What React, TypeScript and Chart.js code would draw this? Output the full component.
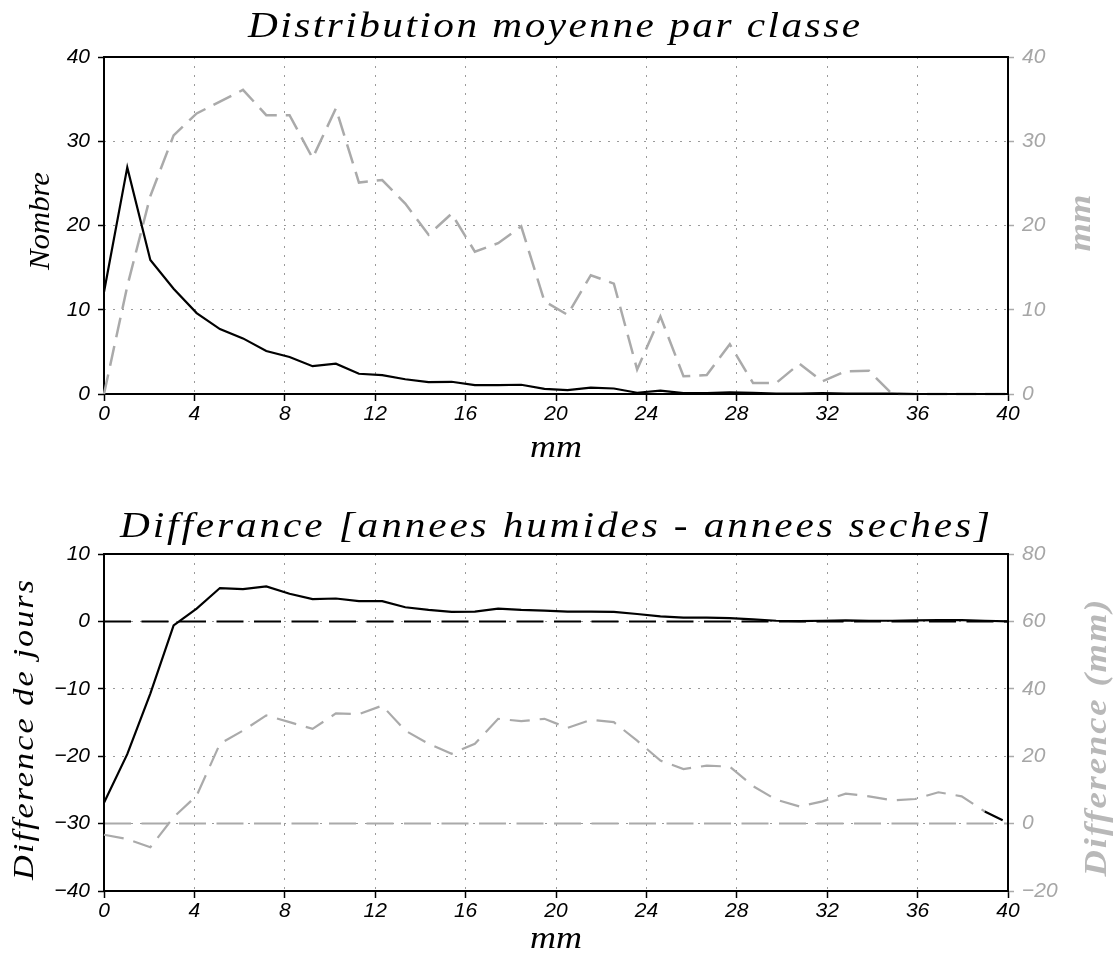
import React, { useEffect, useRef } from "react";
import { Chart, registerables } from "chart.js";

Chart.register(...registerables);

// ---- data ----
const MM_CLASSES = [
  0, 1.03, 2.05, 3.08, 4.1, 5.13, 6.15, 7.18, 8.21, 9.23, 10.26, 11.28, 12.31, 13.33,
  14.36, 15.38, 16.41, 17.44, 18.46, 19.49, 20.51, 21.54, 22.56, 23.59, 24.62, 25.64,
  26.67, 27.69, 28.72, 29.74, 30.77, 31.79, 32.82, 33.85, 34.87, 35.9, 36.92, 37.95,
  38.97, 40,
];
const X_TICKS = [0, 4, 8, 12, 16, 20, 24, 28, 32, 36, 40];

const TOP_TITLE = "Distribution moyenne par classe";
const TOP_X_TITLE = "mm";
const TOP_LEFT_TITLE = "Nombre";
const TOP_RIGHT_TITLE = "mm";
const TOP_COUNT = [
  12.1, 26.9, 15.9, 12.5, 9.6, 7.7, 6.6, 5.1, 4.4, 3.3, 3.6, 2.4, 2.25, 1.75, 1.4, 1.45,
  1.05, 1.05, 1.1, 0.6, 0.45, 0.75, 0.65, 0.15, 0.4, 0.1, 0.1, 0.2, 0.15, 0.05, 0.05, 0.1,
  0.05, 0.05, 0.05, 0, 0, 0, 0, 0,
];
const TOP_MM = [
  0, 12.8, 23.5, 30.7, 33.3, 34.7, 36.1, 33.1, 33.1, 28.0, 33.9, 25.1, 25.4, 22.6, 18.9,
  21.4, 16.9, 17.9, 19.9, 11.0, 9.4, 14.1, 13.1, 2.9, 9.2, 2.1, 2.25, 5.9, 1.3, 1.3, 3.6,
  1.5, 2.7, 2.75, 0, 0, 0, 0, 0, 0,
];
const TOP_LEFT_TICKS = [0, 10, 20, 30, 40];
const TOP_RIGHT_TICKS = [0, 10, 20, 30, 40];

const BOTTOM_TITLE = "Differance [annees humides - annees seches]";
const BOTTOM_X_TITLE = "mm";
const BOTTOM_LEFT_TITLE = "Difference de jours";
const BOTTOM_RIGHT_TITLE = "Difference (mm)";
const BOTTOM_DAYS = [
  -26.9, -19.7, -10.7, -0.6, 1.9, 4.95, 4.8, 5.2, 4.1, 3.3, 3.4, 3.0, 3.0, 2.1, 1.7, 1.4,
  1.45, 1.9, 1.7, 1.6, 1.45, 1.45, 1.4, 1.1, 0.75, 0.55, 0.55, 0.5, 0.3, 0.1, 0.05, 0.1,
  0.15, 0.1, 0.1, 0.15, 0.2, 0.2, 0.1, 0,
];
const BOTTOM_MM = [
  -3.3, -4.6, -7, 1.9, 8.3, 23.7, 27.6, 32.1, 30.1, 28.1, 32.7, 32.5, 35, 27.6, 23.7,
  20.7, 23.7, 31.1, 30.4, 31.1, 28.4, 30.8, 30.1, 24.6, 18.7, 16.2, 17.2, 16.9, 11.1, 7.1,
  5.1, 6.6, 8.9, 8.1, 6.9, 7.3, 9.3, 8.1, 3.6, 0.2,
];
const BOTTOM_LEFT_TICKS = [-40, -30, -20, -10, 0, 10];
const BOTTOM_RIGHT_TICKS = [-20, 0, 20, 40, 60, 80];
const BOTTOM_LEFT_REF = 0;
const BOTTOM_RIGHT_REF = 0;

// ---- style ----
const GREY = "#aaaaaa";
const GREY_TXT = "#a6a6a6";
const GREY_TITLE = "#b8b8b8";
const GRID = "#9a9a9a";
const W = 1113;
const TOP_H = 470;
const BOT_H = 488;
const SERIF = "'Liberation Serif'";

type TextSpec = {
  text: string;
  x: number;
  y: number;
  w: number;
  font: string;
  color: string;
  rot?: number;
};

// draws text centred at (x, y), widened (a little stretch, then letter spacing) to span w pixels
function drawFitted(ctx: CanvasRenderingContext2D, t: TextSpec) {
  ctx.save();
  ctx.font = t.font;
  ctx.fillStyle = t.color;
  ctx.textAlign = "left";
  ctx.textBaseline = "alphabetic";
  const c: any = ctx;
  const hasSpacing = "letterSpacing" in c;
  if (hasSpacing) c.letterSpacing = "0px";
  const m = ctx.measureText(t.text).width || 1;
  ctx.translate(t.x, t.y);
  if (t.rot) ctx.rotate(t.rot);
  const n = t.text.length;
  if (hasSpacing && n > 1) {
    const sx = Math.min(1.18, t.w / m);
    ctx.scale(sx, 1);
    const sp = (t.w / sx - m) / (n - 1);
    c.letterSpacing = Math.max(0, sp) + "px";
    ctx.fillText(t.text, -t.w / (2 * sx), 0);
  } else {
    ctx.scale(t.w / m, 1);
    ctx.fillText(t.text, -m / 2, 0);
  }
  ctx.restore();
}

const fmt = (v: number) => (v < 0 ? "\u2212" + Math.abs(v) : String(v));
const tickFont = { family: "'Liberation Sans'", size: 21, style: "italic" as const };

function scales(leftTicks: number[], rightTicks: number[], xHeight: number) {
  return {
    x: {
      type: "linear",
      min: 0,
      max: 40,
      afterBuildTicks: (s: any) => {
        s.ticks = X_TICKS.map((v) => ({ value: v }));
      },
      afterFit: (s: any) => {
        s.height = xHeight;
      },
      grid: {
        color: GRID,
        lineWidth: 1,
        tickColor: "#000",
        tickLength: 7,
        tickWidth: 1.5,
        tickBorderDash: [],
      },
      border: { display: false, dash: [2, 7] },
      ticks: { color: "#000", font: tickFont, padding: 1, maxRotation: 0, callback: (v: any) => fmt(v) },
    },
    y: {
      type: "linear",
      position: "left",
      min: leftTicks[0],
      max: leftTicks[leftTicks.length - 1],
      afterBuildTicks: (s: any) => {
        s.ticks = leftTicks.map((v) => ({ value: v }));
      },
      afterFit: (s: any) => {
        s.width = 104;
      },
      grid: {
        color: GRID,
        lineWidth: 1,
        tickColor: "#000",
        tickLength: 6,
        tickWidth: 1.5,
        tickBorderDash: [],
      },
      border: { display: false, dash: [2, 7] },
      ticks: { color: "#000", font: tickFont, padding: 8, callback: (v: any) => fmt(v) },
    },
    y1: {
      type: "linear",
      position: "right",
      min: rightTicks[0],
      max: rightTicks[rightTicks.length - 1],
      afterBuildTicks: (s: any) => {
        s.ticks = rightTicks.map((v) => ({ value: v }));
      },
      afterFit: (s: any) => {
        s.width = W - 1008;
      },
      grid: {
        drawOnChartArea: false,
        color: GREY,
        tickColor: GREY,
        tickLength: 6,
        tickWidth: 1.5,
        tickBorderDash: [],
      },
      border: { display: false },
      ticks: { color: GREY_TXT, font: tickFont, padding: 8, callback: (v: any) => fmt(v) },
    },
  };
}

function framePlugin(refLines: { axis: string; value: number; color: string }[]) {
  return {
    id: "frame",
    beforeDatasetsDraw(chart: any) {
      const { ctx, chartArea: a } = chart;
      ctx.save();
      refLines.forEach((r) => {
        const y = chart.scales[r.axis].getPixelForValue(r.value);
        ctx.strokeStyle = r.color;
        ctx.lineWidth = 2;
        ctx.setLineDash([27, 10.5]);
        ctx.beginPath();
        ctx.moveTo(a.left, y);
        ctx.lineTo(a.right, y);
        ctx.stroke();
      });
      ctx.setLineDash([]);
      ctx.strokeStyle = "#000";
      ctx.lineWidth = 2;
      ctx.strokeRect(a.left, a.top, a.right - a.left, a.bottom - a.top);
      ctx.restore();
    },
  };
}

function textPlugin(texts: TextSpec[]) {
  return {
    id: "texts",
    afterDraw(chart: any) {
      texts.forEach((t) => drawFitted(chart.ctx, t));
    },
  };
}

const pts = (vals: number[]) => MM_CLASSES.map((x, i) => ({ x, y: vals[i] }));

function topConfig(): any {
  return {
    type: "line",
    data: {
      datasets: [
        {
          data: pts(TOP_COUNT),
          yAxisID: "y",
          borderColor: "#000",
          borderWidth: 2.2,
          pointRadius: 0,
          tension: 0,
          clip: false,
        },
        {
          data: pts(TOP_MM),
          yAxisID: "y1",
          borderColor: GREY,
          borderWidth: 2.5,
          borderDash: [20, 9],
          pointRadius: 0,
          tension: 0,
          clip: false,
        },
      ],
    },
    options: {
      responsive: false,
      animation: false,
      events: [],
      layout: { padding: { top: 57, left: 0, right: 0, bottom: 0 } },
      plugins: { legend: { display: false }, tooltip: { enabled: false }, title: { display: false } },
      scales: scales(TOP_LEFT_TICKS, TOP_RIGHT_TICKS, TOP_H - 394),
    },
    plugins: [
      framePlugin([]),
      textPlugin([
        { text: TOP_TITLE, x: 554, y: 37, w: 612, font: `italic 35px ${SERIF}`, color: "#000" },
        { text: TOP_X_TITLE, x: 556, y: 457, w: 52, font: `italic 31px ${SERIF}`, color: "#000" },
        { text: TOP_LEFT_TITLE, x: 49, y: 221, w: 98, font: `italic 29px ${SERIF}`, color: "#000", rot: -Math.PI / 2 },
        { text: TOP_RIGHT_TITLE, x: 1090, y: 223, w: 57, font: `italic bold 31px ${SERIF}`, color: GREY_TITLE, rot: -Math.PI / 2 },
      ]),
    ],
  };
}

function bottomConfig(): any {
  const last = BOTTOM_MM.length - 1;
  return {
    type: "line",
    data: {
      datasets: [
        {
          data: pts(BOTTOM_DAYS),
          yAxisID: "y",
          borderColor: "#000",
          borderWidth: 2.2,
          pointRadius: 0,
          tension: 0,
          clip: false,
        },
        {
          data: pts(BOTTOM_MM),
          yAxisID: "y1",
          borderColor: GREY,
          borderWidth: 2.2,
          borderDash: [20, 10],
          pointRadius: 0,
          tension: 0,
          clip: false,
          segment: {
            borderColor: (c: any) => (c.p1DataIndex === last ? "#000" : undefined),
          },
        },
      ],
    },
    options: {
      responsive: false,
      animation: false,
      events: [],
      layout: { padding: { top: 554 - TOP_H, left: 0, right: 0, bottom: 0 } },
      plugins: { legend: { display: false }, tooltip: { enabled: false }, title: { display: false } },
      scales: scales(BOTTOM_LEFT_TICKS, BOTTOM_RIGHT_TICKS, TOP_H + BOT_H - 891),
    },
    plugins: [
      framePlugin([
        { axis: "y1", value: BOTTOM_RIGHT_REF, color: GREY },
        { axis: "y", value: BOTTOM_LEFT_REF, color: "#000" },
      ]),
      textPlugin([
        { text: BOTTOM_TITLE, x: 555, y: 537 - TOP_H, w: 870, font: `italic 35px ${SERIF}`, color: "#000" },
        { text: BOTTOM_X_TITLE, x: 556, y: 948 - TOP_H, w: 52, font: `italic 31px ${SERIF}`, color: "#000" },
        { text: BOTTOM_LEFT_TITLE, x: 33, y: 730 - TOP_H, w: 300, font: `italic 29px ${SERIF}`, color: "#000", rot: -Math.PI / 2 },
        { text: BOTTOM_RIGHT_TITLE, x: 1106, y: 738 - TOP_H, w: 277, font: `italic bold 31px ${SERIF}`, color: GREY_TITLE, rot: -Math.PI / 2 },
      ]),
    ],
  };
}

function ChartCanvas({ make, height, top }: { make: () => any; height: number; top: number }) {
  const ref = useRef<HTMLCanvasElement>(null);
  useEffect(() => {
    const chart = new Chart(ref.current as HTMLCanvasElement, make());
    return () => chart.destroy();
  }, []);
  return (
    <canvas
      ref={ref}
      width={W}
      height={height}
      style={{ position: "absolute", left: 0, top, width: W, height, display: "block" }}
    />
  );
}

export default function App() {
  return (
    <div style={{ position: "absolute", left: 0, top: 0, width: W, height: TOP_H + BOT_H, background: "#fff" }}>
      <ChartCanvas make={topConfig} height={TOP_H} top={0} />
      <ChartCanvas make={bottomConfig} height={BOT_H} top={TOP_H} />
    </div>
  );
}
